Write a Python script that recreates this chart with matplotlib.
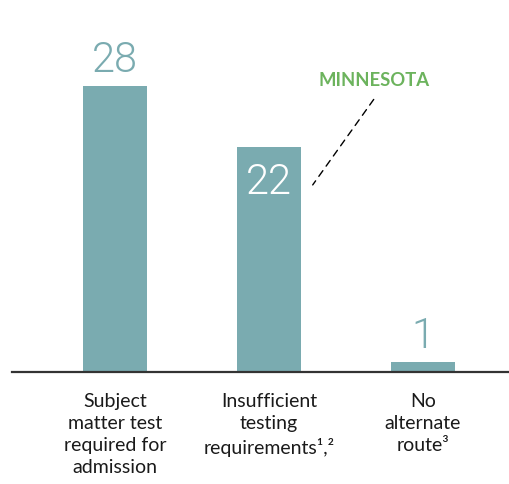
import matplotlib.pyplot as plt

# ------------------------------
# Data
# ------------------------------
categories = ["Subject\nmatter test\nrequired for\nadmission",
              "Insufficient\ntesting\nrequirements\u00b9\u002c\u00b2",
              "No\nalternate\nroute\u00b3"]
values = [28, 22, 1]
callout = "MINNESOTA"

BAR = "#7aabb0"
GREEN = "#6cb35d"
plt.rcParams["font.family"] = ["Lato", "DejaVu Sans"]

# ------------------------------
# Figure
# ------------------------------
W, H = 509, 485
fig = plt.figure(figsize=(W / 100, H / 100), dpi=100)
ax = fig.add_axes([12 / W, (H - 373) / H, 1 - 12 / W, 373 / H])

x = list(range(len(values)))
ax.bar(x, values, width=0.416, color=BAR)
ax.set_xlim(-0.669, 2.558)
ax.set_ylim(0, 36.5)

for s in ["top", "right", "left"]:
    ax.spines[s].set_visible(False)
ax.spines["bottom"].set_color("#333333")
ax.spines["bottom"].set_linewidth(1.6)
ax.set_yticks([])
ax.set_xticks(x)
ax.set_xticklabels(categories, fontsize=14, color="#1a1a1a", linespacing=1.35, va="top")
ax.tick_params(axis="x", length=0, pad=14.5)

# value labels (thin digits)
num_font = dict(fontsize=30, family=["Roboto", "DejaVu Sans"], fontweight=300)
for i, v in enumerate(values):
    if i == 1:
        ax.annotate(str(v), (i, v), xytext=(0, -33), textcoords="offset points",
                    ha="center", va="baseline", color="white", **num_font)
    else:
        ax.annotate(str(v), (i, v), xytext=(0, 10.5), textcoords="offset points",
                    ha="center", va="baseline", color=BAR, **num_font)

# callout
ax.annotate("", xy=(1.273, 22 - 40 / 10.22), xytext=(1.69, 22 + 50 / 10.22),
            arrowprops=dict(arrowstyle="-", linestyle=(0, (5, 4)), color="black", lw=1))
ax.text(1.68, 22 + 62 / 10.22, callout, ha="center", va="baseline",
        fontsize=13.3, fontweight="bold", color=GREEN)

fig.savefig("out.png", dpi=100)
